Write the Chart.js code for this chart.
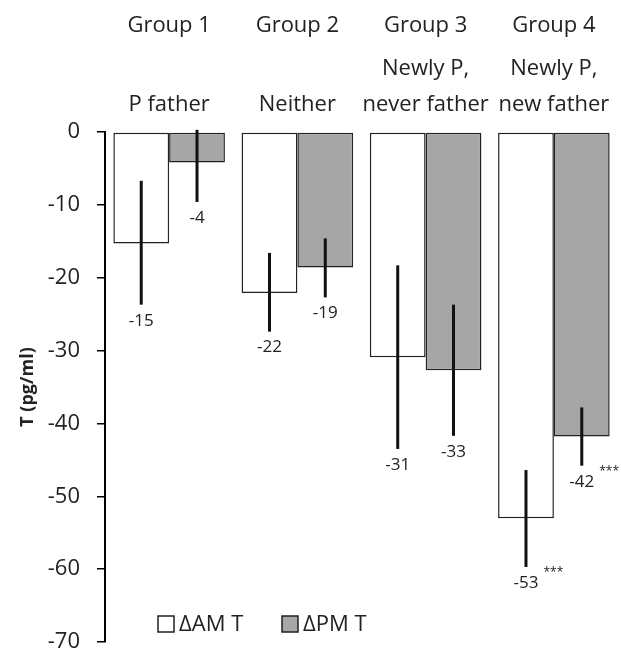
<!DOCTYPE html>
<html>
<head>
<meta charset="utf-8">
<script src="https://cdn.jsdelivr.net/npm/chart.js@4.4.1/dist/chart.umd.min.js"></script>
<style>
  html, body { margin: 0; padding: 0; background: #fff; }
  #wrap { width: 621px; height: 655px; }
</style>
</head>
<body>
<div id="wrap"><canvas id="fatherChart"></canvas></div>
<script>
var groupNames = ["Group 1", "Group 2", "Group 3", "Group 4"];
var groupDescriptions = [
  ["", "P father"],
  ["", "Neither"],
  ["Newly P,", "never father"],
  ["Newly P,", "new father"],
];
var yTicks = [0, -10, -20, -30, -40, -50, -60, -70];

var amValues = [-15.3, -22.1, -30.9, -53.0];
var amErrLow = [-23.7, -27.4, -43.5, -59.7];
var amErrHigh = [-6.7, -16.6, -18.3, -46.4];
var amStars = ["", "", "", "***"];

var pmValues = [-4.2, -18.6, -32.7, -41.8];
var pmErrLow = [-9.6, -22.7, -41.7, -45.8];
var pmErrHigh = [0.3, -14.6, -23.7, -37.8];
var pmStars = ["", "", "", "***"];

Chart.defaults.font.family = "'Open Sans', sans-serif";
Chart.defaults.color = "#222";

// error bars + value labels under each bar
var errorBarsAndLabels = {
  id: "errorBarsAndLabels",
  afterDatasetsDraw: function (chart) {
    var ctx = chart.ctx;
    var y = chart.scales.y;
    chart.data.datasets.forEach(function (ds, i) {
      var meta = chart.getDatasetMeta(i);
      meta.data.forEach(function (bar, j) {
        var top = y.getPixelForValue(ds.errHigh[j]);
        var bottom = y.getPixelForValue(ds.errLow[j]);
        ctx.save();
        ctx.strokeStyle = "#111";
        ctx.lineWidth = 3;
        ctx.beginPath();
        ctx.moveTo(bar.x, top);
        ctx.lineTo(bar.x, bottom);
        ctx.stroke();

        var txt = String(Math.round(ds.data[j]));
        ctx.font = "17px 'Open Sans', sans-serif";
        ctx.fillStyle = "#222";
        ctx.textAlign = "center";
        ctx.textBaseline = "middle";
        ctx.fillText(txt, bar.x, bottom + 16);
        if (ds.stars[j]) {
          var w = ctx.measureText(txt).width;
          ctx.font = "12px 'Open Sans', sans-serif";
          ctx.textAlign = "left";
          ctx.fillText(ds.stars[j], bar.x + w / 2 + 5, bottom + 6);
        }
        ctx.restore();
      });
    });
  },
};

// legend sits inside the plot, bottom left
var insideLegend = {
  id: "insideLegend",
  afterDraw: function (chart) {
    var a = chart.chartArea;
    var ctx = chart.ctx;
    var cy = a.bottom - 18;
    var xs = [a.left + 53, a.left + 177];
    chart.data.datasets.forEach(function (ds, i) {
      ctx.save();
      ctx.fillStyle = ds.backgroundColor;
      ctx.fillRect(xs[i], cy - 8, 16, 16);
      ctx.strokeStyle = "#222";
      ctx.lineWidth = 1.5;
      ctx.strokeRect(xs[i], cy - 8, 16, 16);
      ctx.font = "22px 'Open Sans', sans-serif";
      ctx.fillStyle = "#222";
      ctx.textBaseline = "middle";
      ctx.fillText(ds.label, xs[i] + 21, cy + 1);
      ctx.restore();
    });
  },
};

var ctx = document.getElementById("fatherChart");

var fatherChart = new Chart(ctx, {
  type: "bar",
  data: {
    labels: groupDescriptions,
    datasets: [
      {
        label: "\u0394AM T",
        data: amValues,
        errLow: amErrLow,
        errHigh: amErrHigh,
        stars: amStars,
        backgroundColor: "#ffffff",
        borderColor: "#222",
        borderWidth: 1.5,
        borderSkipped: false,
        categoryPercentage: 0.87,
        barPercentage: 1.0,
      },
      {
        label: "\u0394PM T",
        data: pmValues,
        errLow: pmErrLow,
        errHigh: pmErrHigh,
        stars: pmStars,
        backgroundColor: "#a6a6a6",
        borderColor: "#222",
        borderWidth: 1.5,
        borderSkipped: false,
        categoryPercentage: 0.87,
        barPercentage: 1.0,
      },
    ],
  },
  options: {
    responsive: true,
    maintainAspectRatio: false,
    animation: false,
    layout: { autoPadding: false, padding: { top: 12, left: 13, right: 3, bottom: 13 } },
    plugins: {
      legend: { display: false },
      tooltip: { enabled: false },
    },
    scales: {
      x: {
        position: "top",
        weight: 0,
        grid: { display: false },
        border: { display: false },
        afterFit: function (axis) {
          axis.height = 85;
        },
        ticks: {
          padding: 2,
          font: { size: 22, lineHeight: 1.6 },
          maxRotation: 0,
          autoSkip: false,
        },
      },
      x2: {
        type: "category",
        labels: groupNames,
        position: "top",
        weight: 1,
        offset: true,
        grid: { display: false },
        border: { display: false },
        afterFit: function (axis) {
          axis.height = 35;
        },
        ticks: {
          padding: 0,
          font: { size: 22 },
          maxRotation: 0,
          autoSkip: false,
        },
      },
      y: {
        min: -70,
        max: 0,
        afterBuildTicks: function (axis) {
          axis.ticks = yTicks.map(function (v) { return { value: v }; });
        },
        afterFit: function (axis) {
          axis.width = 92;
          axis.paddingTop = 0;
          axis.paddingBottom = 0;
        },
        grid: {
          drawOnChartArea: false,
          drawTicks: true,
          tickLength: 8,
          color: "#000",
          lineWidth: 1.5,
        },
        border: { display: true, color: "#000", width: 2 },
        ticks: {
          padding: 17,
          font: { size: 22 },
        },
        title: {
          display: true,
          text: "T (pg/ml)",
          font: { size: 18, weight: "bold" },
          padding: { top: 4, bottom: 4 },
        },
      },
    },
  },
  plugins: [errorBarsAndLabels, insideLegend],
});
</script>
</body>
</html>
